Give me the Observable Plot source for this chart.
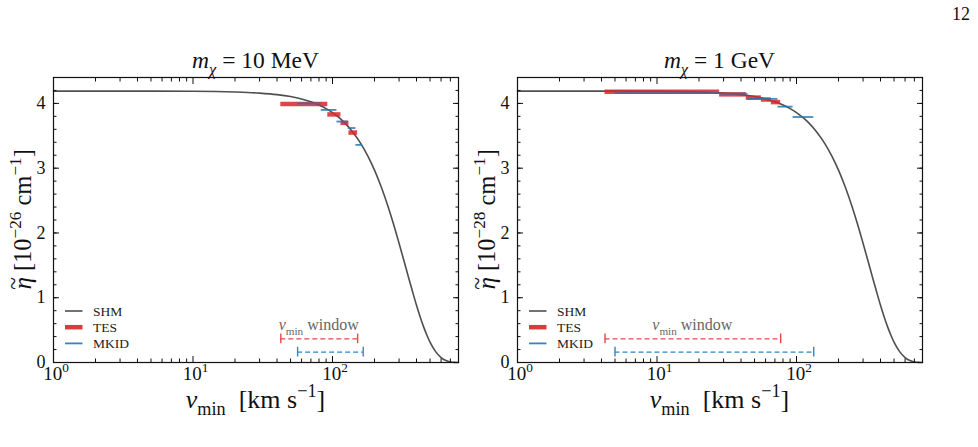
<!DOCTYPE html>
<html>
<head>
<meta charset="utf-8">
<script src="https://cdn.jsdelivr.net/npm/d3@7"></script>
<script src="https://cdn.jsdelivr.net/npm/@observablehq/plot@0.6"></script>
<style>
  html, body { margin: 0; padding: 0; background: #fff; }
  #fig { position: relative; width: 978px; height: 447px; overflow: hidden; }
  #fig svg { position: absolute; top: 0; overflow: visible; }
  #page { position: absolute; left: 952px; top: 4px; font: 18px 'Liberation Serif', serif; color: #111; }
</style>
</head>
<body>
<div id="fig"><div id="page">12</div></div>
<script>
// Standard halo model curve, eta-tilde vs v_min [km/s]
const V_GRID  = [1, 5, 10, 20, 30, 40, 50, 60, 70, 80, 90, 100, 120, 140, 160, 180, 200, 225, 250, 275,
                 294, 320, 350, 375, 400, 425, 450, 475, 500, 550, 600, 650, 700, 750, 794, 800];
const ETA_SHM = [4.190, 4.189, 4.187, 4.176, 4.159, 4.136, 4.106, 4.069, 4.026, 3.976, 3.920, 3.858,
                 3.718, 3.556, 3.376, 3.179, 2.969, 2.693, 2.408, 2.122, 1.908, 1.625, 1.321, 1.091,
                 0.884, 0.704, 0.550, 0.421, 0.315, 0.164, 0.077, 0.031, 0.009, 0.0015, 0, 0];

// m_chi = 10 MeV : binned reconstructions
const TES10_LO  = [42.6, 92.5, 114.9, 131.2];
const TES10_HI  = [92.5, 114.9, 131.2, 151.4];
const TES10_ETA = [3.99, 3.83, 3.70, 3.55];
const MK10_LO   = [56.2, 83.0, 107.5, 129.6, 147.2];
const MK10_HI   = [83.0, 107.5, 129.6, 147.2, 164.4];
const MK10_ETA  = [4.00, 3.90, 3.72, 3.62, 3.36];
const WIN10_TES = [42.6, 151.4];
const WIN10_MK  = [56.2, 166.0];

// m_chi = 1 GeV : binned reconstructions
const TES1_LO  = [4.24, 28.1, 43.6, 56.0, 66.0];
const TES1_HI  = [28.1, 43.6, 56.0, 66.0, 77.0];
const TES1_ETA = [4.18, 4.14, 4.09, 4.06, 4.02];
const MK1_LO   = [5.0, 28.6, 44.9, 73.6, 94.5];
const MK1_HI   = [28.6, 44.9, 73.6, 94.5, 132.9];
const MK1_ETA  = [4.16, 4.15, 4.07, 3.95, 3.79];
const WIN1_TES = [4.24, 77.0];
const WIN1_MK  = [5.0, 132.9];

// heights at which the v_min windows are drawn
const WIN_ETA_TES = 0.365;
const WIN_ETA_MK  = 0.16;

const X_MAJOR = [1, 10, 100];
const X_MINOR = [2, 3, 4, 5, 6, 7, 8, 9, 20, 30, 40, 50, 60, 70, 80, 90, 200, 300, 400, 500, 600, 700, 800];
const Y_MAJOR = [0, 1, 2, 3, 4];

const FONT = "'Liberation Serif', 'Times New Roman', serif";
const RED = "#d62728", BLUE = "#1f77b4", GREY = "#4f4f4f";
const W = 480, H = 447, ML = 53, MR = 22, MT = 77, MB = 85;

// text with italic / sub / superscript runs
function rich(parent, parts, {x, y, size, anchor = "middle", fill = "#111", rotate = null}) {
  const t = parent.append("text")
    .attr("font-family", FONT).attr("font-size", size)
    .attr("fill", fill).attr("text-anchor", anchor);
  if (rotate != null) t.attr("transform", `translate(${x},${y}) rotate(${rotate})`);
  else t.attr("x", x).attr("y", y);
  let shift = 0;
  for (const p of parts) {
    const lvl = p.lvl ?? (p.sub ? 0.28 : p.sup ? -0.42 : 0);
    const s = t.append("tspan").text(p.t).attr("dy", (lvl - shift) * size);
    if (p.dx) s.attr("dx", p.dx * size);
    if (p.sub || p.sup) s.attr("font-size", size * 0.7);
    if (p.scale) s.attr("font-size", size * p.scale);
    if (p.i) s.attr("font-style", "italic");
    shift = lvl;
  }
  return t;
}

const rows = (lo, hi, eta) => lo.map((l, i) => ({lo: l, hi: hi[i], eta: eta[i]}));
const shmRows = V_GRID.map((v, i) => ({v, eta: ETA_SHM[i]}));

function panel({left, title, expo, tes, mk, winTes, winMk}) {
  const windows = [
    {lo: winTes[0], hi: winTes[1], eta: WIN_ETA_TES, c: "#e8474b"},
    {lo: winMk[0],  hi: winMk[1],  eta: WIN_ETA_MK,  c: "#2f86c6"}
  ];
  const caps = windows.flatMap(w => [{x: w.lo, eta: w.eta, c: w.c}, {x: w.hi, eta: w.eta, c: w.c}]);
  const cap = 0.075;

  const plot = Plot.plot({
    width: W, height: H,
    marginLeft: ML, marginRight: MR, marginTop: MT, marginBottom: MB,
    style: {fontFamily: FONT, fontSize: "18px", background: "transparent", color: "#111", overflow: "visible"},
    x: {type: "log", domain: [1, 800]},
    y: {domain: [0, 4.4]},
    marks: [
      Plot.line(shmRows, {x: "v", y: "eta", stroke: GREY, strokeWidth: 1.6, curve: "monotone-x"}),
      Plot.ruleY(tes, {x1: "lo", x2: "hi", y: "eta", stroke: RED, strokeWidth: 4.5, strokeOpacity: 0.85}),
      Plot.ruleY(mk, {x1: "lo", x2: "hi", y: "eta", stroke: BLUE, strokeWidth: 1.8, strokeOpacity: 0.85}),
      Plot.ruleY(windows, {x1: "lo", x2: "hi", y: "eta", stroke: "c", strokeWidth: 1.4, strokeDasharray: "5,3"}),
      Plot.ruleX(caps, {x: "x", y1: d => d.eta - cap, y2: d => d.eta + cap, stroke: "c", strokeWidth: 1.4}),
      // inward ticks on all four sides
      Plot.axisX({anchor: "bottom", ticks: X_MAJOR, tickSize: -6, tickFormat: () => "", label: null}),
      Plot.axisX({anchor: "bottom", ticks: X_MINOR, tickSize: -3.5, tickFormat: () => "", label: null}),
      Plot.axisX({anchor: "top", ticks: X_MAJOR, tickSize: -6, tickFormat: () => "", label: null}),
      Plot.axisX({anchor: "top", ticks: X_MINOR, tickSize: -3.5, tickFormat: () => "", label: null}),
      Plot.axisY({anchor: "left", ticks: Y_MAJOR, tickSize: -6, tickFormat: () => "", label: null}),
      Plot.axisY({anchor: "left", ticks: d3.range(0.2, 4.41, 0.2), tickSize: -3.5, tickFormat: () => "", label: null}),
      Plot.axisY({anchor: "right", ticks: Y_MAJOR, tickSize: -6, tickFormat: () => "", label: null}),
      Plot.axisY({anchor: "right", ticks: d3.range(0.2, 4.41, 0.2), tickSize: -3.5, tickFormat: () => "", label: null}),
      Plot.axisY({anchor: "left", ticks: Y_MAJOR, tickSize: 0, tickPadding: 8, tickFormat: d => String(d), label: null}),
      Plot.frame({stroke: "#111", strokeWidth: 1.2})
    ]
  });
  plot.style.left = left + "px";
  document.getElementById("fig").appendChild(plot);

  const svg = d3.select(plot);
  const sx = plot.scale("x"), sy = plot.scale("y");
  const g = svg.append("g");
  const x0 = ML, x1 = W - MR, yb = H - MB;

  // x tick labels 10^n
  X_MAJOR.forEach(v => {
    rich(g, [{t: "10"}, {t: String(Math.round(Math.log10(v))), sup: true}],
      {x: sx.apply(v) + 3, y: yb + 18, size: 19});
  });

  // title
  rich(g, [{t: "m", i: true}, {t: "χ", sub: true, i: true}, {t: " = " + title}],
    {x: (x0 + x1) / 2, y: MT - 9, size: 23.5});

  // axis labels
  rich(g, [{t: "v", i: true}, {t: "min", sub: true}, {t: "  [km s"}, {t: "−1", sup: true}, {t: "]"}],
    {x: (x0 + x1) / 2, y: yb + 46, size: 26});
  rich(g, [{t: "η", i: true}, {t: "~", dx: -0.52, lvl: -0.4, scale: 0.95},
           {t: " [10", lvl: 0}, {t: "−" + expo, sup: true}, {t: " cm"}, {t: "−1", sup: true}, {t: "]"}],
    {x: 31, y: (MT + yb) / 2, size: 24.5, rotate: -90});

  // window label
  rich(g, [{t: "v", i: true}, {t: "min", sub: true}, {t: " window"}],
    {x: (sx.apply(winTes[0]) + sx.apply(winTes[1])) / 2, y: sy.apply(WIN_ETA_TES) - 8, size: 16, fill: "#666"});

  // legend
  const leg = [
    {name: "SHM", c: GREY, w: 1.6, o: 1},
    {name: "TES", c: RED, w: 4.5, o: 0.9},
    {name: "MKID", c: BLUE, w: 1.8, o: 0.9}
  ];
  leg.forEach((d, i) => {
    const y = 311 + i * 16.2;
    g.append("line").attr("x1", x0 + 12).attr("x2", x0 + 29.5).attr("y1", y).attr("y2", y)
      .attr("stroke", d.c).attr("stroke-width", d.w).attr("stroke-opacity", d.o);
    g.append("text").attr("x", x0 + 40).attr("y", y + 4.5).attr("font-family", FONT)
      .attr("text-anchor", "start").attr("font-size", 13.5).attr("fill", "#222").text(d.name);
  });
}

panel({left: 0, title: "10 MeV", expo: "26",
  tes: rows(TES10_LO, TES10_HI, TES10_ETA), mk: rows(MK10_LO, MK10_HI, MK10_ETA),
  winTes: WIN10_TES, winMk: WIN10_MK});
panel({left: 463.7, title: "1 GeV", expo: "28",
  tes: rows(TES1_LO, TES1_HI, TES1_ETA), mk: rows(MK1_LO, MK1_HI, MK1_ETA),
  winTes: WIN1_TES, winMk: WIN1_MK});
</script>
</body>
</html>
